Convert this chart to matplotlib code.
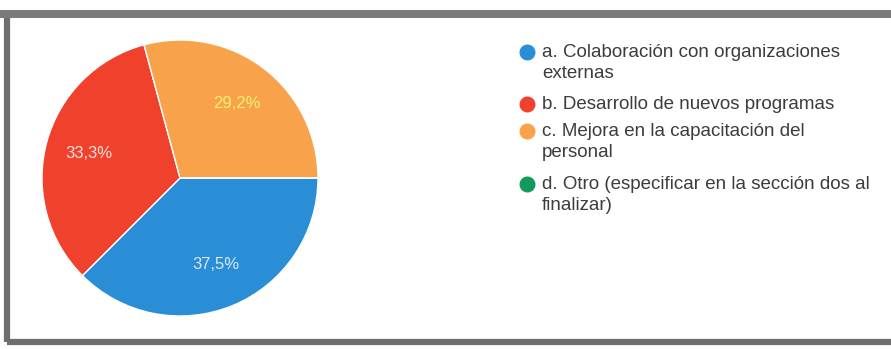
import numpy as np
import matplotlib.pyplot as plt
from matplotlib.patches import Rectangle
from matplotlib.lines import Line2D

plt.rcParams['font.family'] = ['Liberation Sans', 'DejaVu Sans']

labels = ['a. Colaboración con organizaciones\nexternas',
          'b. Desarrollo de nuevos programas',
          'c. Mejora en la capacitación del\npersonal',
          'd. Otro (especificar en la sección dos al\nfinalizar)']
values = [37.5, 33.3, 29.2, 0.0]
pct_text = ['37,5%', '33,3%', '29,2%', '']
colors = ['#2a8ed6', '#f0412c', '#f8a24c', '#139a5a']
pct_colors = ['#d8e8f6', '#fbe0dc', '#f8f070', 'white']

W, H = 891, 349
fig = plt.figure(figsize=(W / 100, H / 100), dpi=100)

# scanned frame
fig.patches.append(Rectangle((7 / W, 7 / H), 1.0, 1 - 21 / H, transform=fig.transFigure,
                             fill=False, edgecolor='#6e6e6e', linewidth=4.5))
fig.patches.append(Rectangle((0, 1 - 18 / H), 1.0, 8 / H, transform=fig.transFigure,
                             color='#7a7a7a', linewidth=0))

cx, cy, r = 180, 178, 138
ax = fig.add_axes([(cx - r) / W, (H - cy - r) / H, 2 * r / W, 2 * r / H])
wedges, _ = ax.pie(values, colors=colors, startangle=0, counterclock=False,
                   radius=1, wedgeprops=dict(edgecolor='white', linewidth=1))
ax.set_xlim(-1, 1)
ax.set_ylim(-1, 1)
ax.set_aspect('equal')
ax.axis('off')

# percentage labels inside slices
start = 0.0
for v, t, c in zip(values, pct_text, pct_colors):
    if v <= 0:
        continue
    mid = start - v / 100 * 360 / 2
    a = np.deg2rad(mid)
    ax.text(0.68 * np.cos(a), 0.68 * np.sin(a), t, color=c, fontsize=12,
            ha='center', va='center')
    start -= v / 100 * 360

# legend
ly = [52, 104, 131, 184]
for y, lab, c in zip(ly, labels, colors):
    fig.add_artist(Line2D([527 / W], [1 - y / H], marker='o', markersize=10.5,
                          color=c, transform=fig.transFigure))
    fig.text(542 / W, 1 - (y - 8) / H, lab, fontsize=13.5, color='#3c3c3c',
             ha='left', va='top', linespacing=1.3)

fig.savefig('out.png', dpi=100, facecolor='white')
